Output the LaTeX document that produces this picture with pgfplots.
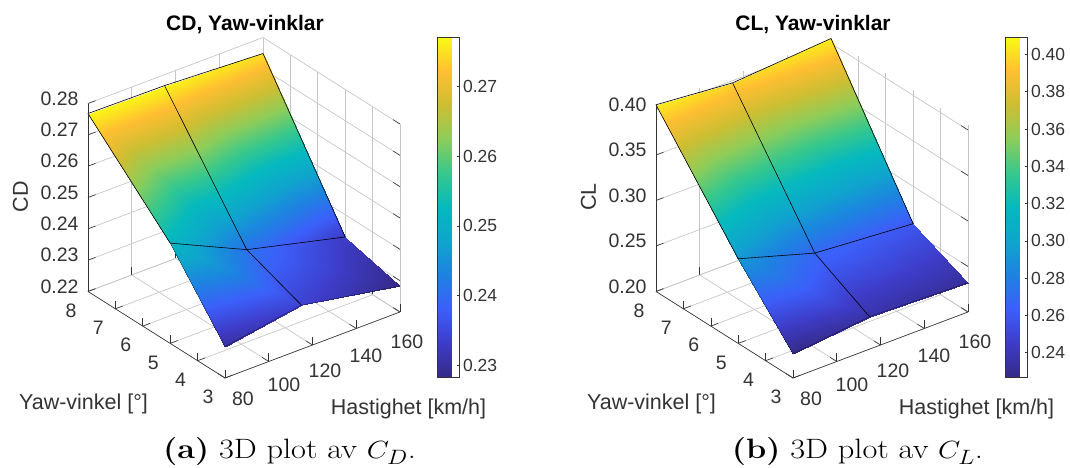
\documentclass[border=0pt]{standalone}
\usepackage{fontspec}
\usepackage{pgfplots}
\usepackage{pgfplotstable}
\pgfplotsset{compat=1.18}
\setmainfont{Liberation Sans}
\newfontfamily\capfont{Latin Modern Roman}
\definecolor{axdark}{gray}{0.2}
\definecolor{griddk}{gray}{0.78}
\pgfplotsset{
 colormap={parula}{rgb255=(53,42,135) rgb255=(62,60,200) rgb255=(60,95,250) rgb255=(30,130,225) rgb255=(15,165,205) rgb255=(5,185,190) rgb255=(55,200,140) rgb255=(140,205,90) rgb255=(205,190,50) rgb255=(255,190,50) rgb255=(249,251,20)},
 common3d/.style={
  colormap name=parula,
  x={(2.1875pt,0.825pt)}, y={(-27.4pt,17.3pt)},
  xmin=80,xmax=160,ymin=3,ymax=8,
  xtick={80,100,...,160}, ytick={3,4,...,8},
  grid=major, grid style={griddk,line width=0.7pt},
  clip=false,
  axis line style={draw=none},
  tick style={axdark,line width=0.6pt},
  tick align=inside,
  tick pos=left,
  major tick length=8pt,
  ticklabel style={font=\fontsize{19.5}{21}\selectfont,text=axdark},
  /pgf/number format/assume math mode=true,
  label style={font=\fontsize{21.5}{24}\selectfont,text=axdark},
  title style={font=\fontsize{21}{24}\selectfont\bfseries,text=black},
  xticklabel style={anchor=center,xshift={(18-2.75*\ticknum)*1pt},yshift={(-21-2.25*\ticknum)*1pt}},
  yticklabel style={anchor=center,xshift=-17pt,yshift=-19pt},
  zticklabel style={anchor=east,xshift=-6pt,yshift=5pt,/pgf/number format/fixed,/pgf/number format/fixed zerofill,/pgf/number format/precision=2},
 },
 bar3d/.style={
  colorbar,
  colorbar style={
   at={(parent axis.south west)},anchor=south west,
   width=22pt,height=340pt,
   axis line style={draw=axdark,line width=0.6pt},
   ytick pos=right, yticklabel pos=right,
   tick align=inside, major tick length=3pt,
   tick style={axdark,line width=0.6pt},
   yticklabel style={font=\fontsize{17.5}{20}\selectfont,text=axdark,/pgf/number format/fixed,/pgf/number format/fixed zerofill,/pgf/number format/precision=2,/pgf/number format/assume math mode=true},
   #1
  },
 },
}
\pgfplotstableread{
v yaw z
80 8 0.2768
115 8 0.2765
160 8 0.2749
80 5 0.2520
115 5 0.2407
160 5 0.2329
80 3 0.2300
115 3 0.2340
160 3 0.2283
}\cdtable
\pgfplotstableread{
v yaw z
80 8 0.4052
115 8 0.3975
160 8 0.4055
80 5 0.2930
115 5 0.2675
160 5 0.2590
80 3 0.2264
115 3 0.2356
160 3 0.2322
}\cltable
\begin{document}
\begin{tikzpicture}[x=1pt,y=1pt]
\path[use as bounding box] (0,0) rectangle (1070,468);
\begin{axis}[common3d,
 at={(88pt,90pt)},anchor=south west,
 z={(0pt,3133pt)},
 zmin=0.22,zmax=0.28,ztick={0.22,0.23,...,0.28},
 point meta min=0.2283,point meta max=0.2771,
 bar3d={xshift=341pt,yshift=1pt,ytick={0.23,0.24,...,0.27}},
 title={CD, Yaw-vinklar},
 title style={at={(axis cs:80,3,0.22)},anchor=center,xshift=20pt,yshift=347pt},
 xlabel={Hastighet [km/h]},
 xlabel style={at={(axis cs:80,3,0.22)},anchor=center,xshift=183.5pt,yshift=-31pt},
 ylabel={Yaw-vinkel [\textdegree]},
 ylabel style={at={(axis cs:80,3,0.22)},anchor=center,xshift=-141.5pt,yshift=-26pt},
]
\addplot3[surf,shader=interp,mesh/rows=3,point meta=z] table[x=v,y=yaw,z=z] {\cdtable};
\addplot3[black,line width=0.6pt] coordinates {(80,5,0.2520)(80,8,0.2768)(115,8,0.2765)(160,8,0.2749)(160,5,0.2329)(115,5,0.2407)(80,5,0.2520)};
\addplot3[black,line width=0.6pt] coordinates {(115,8,0.2765)(115,5,0.2407)(115,3,0.2340)};
\addplot3[black,opacity=0.6,line width=0.4pt] coordinates {(80,5,0.2520)(80,3,0.2300)(115,3,0.2340)(160,3,0.2283)};
\draw[axdark,line width=0.6pt] (axis cs:80,8,0.22)--(axis cs:80,3,0.22)--(axis cs:160,3,0.22);
\draw[axdark,line width=0.6pt] (axis cs:80,8,0.22)--(axis cs:80,8,0.28);
\node[font=\fontsize{21.5}{24}\selectfont,text=axdark,xshift=-204.5pt,yshift=181pt,rotate=90] at (axis cs:80,3,0.22) {CD};
\end{axis}
\begin{axis}[common3d,
 at={(656pt,90pt)},anchor=south west,
 z={(0pt,910pt)},
 zmin=0.20,zmax=0.4055,ztick={0.20,0.25,...,0.40},
 point meta min=0.2269,point meta max=0.4094,
 bar3d={xshift=341pt,yshift=1pt,ytick={0.24,0.26,...,0.40}},
 title={CL, Yaw-vinklar},
 title style={at={(axis cs:80,3,0.20)},anchor=center,xshift=20pt,yshift=347pt},
 xlabel={Hastighet [km/h]},
 xlabel style={at={(axis cs:80,3,0.20)},anchor=center,xshift=183.5pt,yshift=-31pt},
 ylabel={Yaw-vinkel [\textdegree]},
 ylabel style={at={(axis cs:80,3,0.20)},anchor=center,xshift=-141.5pt,yshift=-26pt},
]
\addplot3[surf,shader=interp,mesh/rows=3,point meta=z] table[x=v,y=yaw,z=z] {\cltable};
\addplot3[black,line width=0.6pt] coordinates {(80,5,0.2930)(80,8,0.4052)(115,8,0.3975)(160,8,0.4055)(160,5,0.2590)(115,5,0.2675)(80,5,0.2930)};
\addplot3[black,line width=0.6pt] coordinates {(115,8,0.3975)(115,5,0.2675)(115,3,0.2356)};
\addplot3[black,opacity=0.6,line width=0.4pt] coordinates {(80,5,0.2930)(80,3,0.2264)(115,3,0.2356)(160,3,0.2322)};
\draw[axdark,line width=0.6pt] (axis cs:80,8,0.20)--(axis cs:80,3,0.20)--(axis cs:160,3,0.20);
\draw[axdark,line width=0.6pt] (axis cs:80,8,0.20)--(axis cs:80,8,0.4055);
\node[font=\fontsize{21.5}{24}\selectfont,text=axdark,xshift=-204.5pt,yshift=181pt,rotate=90] at (axis cs:80,3,0.20) {CL};
\end{axis}
\node[xscale=1.157] at (289.5,16) {\capfont\fontsize{28}{32}\selectfont\textbf{(a)} 3D plot av $C_D$.};
\node[xscale=1.157] at (857.5,16) {\capfont\fontsize{28}{32}\selectfont\textbf{(b)} 3D plot av $C_L$.};
\end{tikzpicture}
\end{document}
